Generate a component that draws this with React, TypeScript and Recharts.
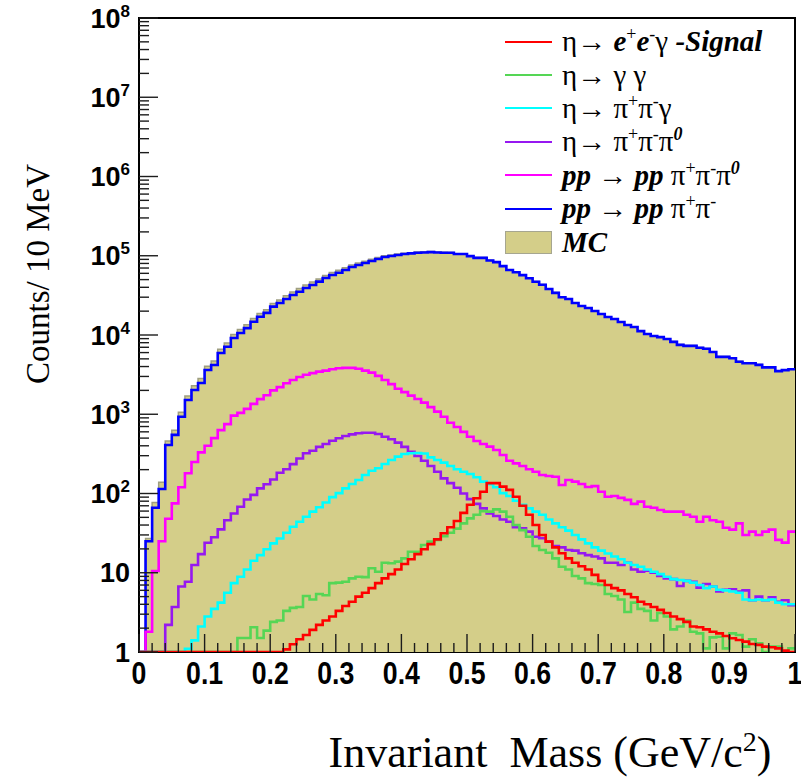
import React from 'react';
import {
  ComposedChart,
  Area,
  Line,
  XAxis,
  YAxis,
  ReferenceArea,
  Legend,
  Label,
} from 'recharts';

// histogram bin edges, 10 MeV bins (GeV/c^2)
const binEdges = [
  0, 0.01, 0.02, 0.03, 0.04, 0.05, 0.06, 0.07, 0.08, 0.09,
  0.1, 0.11, 0.12, 0.13, 0.14, 0.15, 0.16, 0.17, 0.18, 0.19,
  0.2, 0.21, 0.22, 0.23, 0.24, 0.25, 0.26, 0.27, 0.28, 0.29,
  0.3, 0.31, 0.32, 0.33, 0.34, 0.35, 0.36, 0.37, 0.38, 0.39,
  0.4, 0.41, 0.42, 0.43, 0.44, 0.45, 0.46, 0.47, 0.48, 0.49,
  0.5, 0.51, 0.52, 0.53, 0.54, 0.55, 0.56, 0.57, 0.58, 0.59,
  0.6, 0.61, 0.62, 0.63, 0.64, 0.65, 0.66, 0.67, 0.68, 0.69,
  0.7, 0.71, 0.72, 0.73, 0.74, 0.75, 0.76, 0.77, 0.78, 0.79,
  0.8, 0.81, 0.82, 0.83, 0.84, 0.85, 0.86, 0.87, 0.88, 0.89,
  0.9, 0.91, 0.92, 0.93, 0.94, 0.95, 0.96, 0.97, 0.98, 0.99,
  1,
];

const mcTotal = [
  0, 27, 77, 139, 460, 629, 1057, 1699, 2284, 2829,
  4047, 4712, 6599, 7912, 10183, 11719, 13467, 16162, 18685, 20893,
  24976, 27713, 31198, 34978, 38476, 42730, 46511, 51013, 56456, 61464,
  65509, 70610, 76653, 80887, 85321, 90046, 94838, 99979, 102471, 104855,
  107631, 109412, 111217, 112021, 112786, 111585, 110390, 110206, 106091, 105987,
  99902, 94835, 94792, 87771, 83724, 74635, 66558, 62489, 57434, 52382,
  47337, 43301, 38281, 34263, 30216, 28727, 25512, 23397, 22080, 20277,
  18554, 17034, 16033, 14726, 13517, 12707, 11309, 10397, 9792, 9487,
  8982, 8280, 7579, 7375, 7371, 6962, 6767, 6164, 5360, 5352,
  5150, 4657, 4443, 4445, 4242, 3943, 3947, 3537, 3635, 3743,
];

const ppPiPi = [
  0, 25, 66, 114, 410, 550, 930, 1510, 2020, 2480,
  3620, 4180, 5930, 7110, 9160, 10600, 12200, 14700, 17000, 19000,
  22800, 25300, 28500, 32000, 35200, 39200, 42800, 47100, 52400, 57200,
  61100, 66100, 72100, 76400, 81000, 85900, 91000, 96500, 99300, 102000,
  105000, 107000, 109000, 110000, 111000, 110000, 109000, 109000, 105000, 105000,
  99000, 94000, 94000, 87000, 83000, 74000, 66000, 62000, 57000, 52000,
  47000, 43000, 38000, 34000, 30000, 28500, 25300, 23200, 21900, 20100,
  18400, 16900, 15900, 14600, 13400, 12600, 11200, 10300, 9700, 9400,
  8900, 8200, 7500, 7300, 7300, 6900, 6700, 6100, 5300, 5300,
  5100, 4600, 4400, 4400, 4200, 3900, 3900, 3500, 3600, 3700,
];

const ppPiPiPi0 = [
  0, 1.8, 10.5, 25, 48, 75, 120, 180, 250, 330,
  400, 500, 630, 750, 960, 1040, 1170, 1350, 1550, 1740,
  2000, 2200, 2460, 2700, 2950, 3150, 3300, 3450, 3550, 3700,
  3800, 3850, 3850, 3750, 3550, 3350, 3050, 2700, 2400, 2100,
  1900, 1720, 1560, 1400, 1230, 1080, 930, 780, 690, 600,
  520, 460, 421, 390, 354, 306, 259, 240, 222, 202,
  188, 171, 166, 163, 128, 148, 141, 132, 121, 124,
  105, 91, 93, 88, 83, 74, 79, 68, 66, 62,
  59, 59, 59, 54, 51, 44, 51, 46, 44, 37,
  35, 42, 30, 33, 30, 33, 35, 26, 24, 33,
];

const etaPiPiPi0 = [
  0, 0, 0, 0, 2.2, 3.7, 6.7, 7.7, 12.5, 17.2,
  23.9, 28, 35.3, 46, 56, 68, 84, 96, 116, 131,
  150, 183, 202, 235, 277, 322, 346, 388, 421, 464,
  497, 532, 558, 575, 585, 585, 563, 521, 483, 438,
  388, 337, 297, 259, 222, 188, 155, 135, 118, 100,
  85, 74, 65, 56, 52, 47, 44, 37.5, 36.4, 33,
  28.5, 27.2, 24.7, 21.8, 20.9, 19.4, 19, 17.6, 16.7, 16,
  15.2, 13.4, 13.4, 12.5, 13.4, 11, 10.3, 10.6, 10, 9.1,
  8.5, 8.3, 6.8, 7.9, 7.7, 6.5, 7.2, 6.7, 5.8, 6.1,
  6.2, 5.8, 6.0, 4.5, 5.0, 4.5, 4.9, 4.3, 4.5, 3.9,
];

const etaPiPiGamma = [
  0, 0, 0, 0, 0, 0, 0, 1.1, 1.4, 2.1,
  2.8, 3.5, 4.2, 5.6, 7.4, 8.9, 11, 14.2, 16.7, 19.8,
  23.5, 27, 32, 38, 44, 51, 59, 67, 77, 90,
  101, 116, 132, 148, 171, 194, 208, 236, 265, 292,
  315, 322, 325, 320, 286, 265, 245, 222, 202, 188,
  176, 160, 141, 131, 120, 101, 93, 81, 72, 65,
  59, 54, 47, 42, 37.5, 34, 30, 26.4, 23.5, 20.9,
  19, 17.5, 16, 14.8, 13.4, 12.5, 11.9, 11, 10.3, 9.6,
  8.9, 8.3, 8.1, 7.9, 7.5, 7.0, 6.4, 6.7, 6.1, 6.0,
  5.8, 5.6, 4.6, 4.5, 4.6, 4.5, 4.6, 4.2, 4.0, 4.0,
];

const etaGammaGamma = [
  0, 0, 0, 0, 0, 0, 0, 0, 0, 0,
  0, 0, 0, 0, 0, 1.5, 1.5, 2.05, 1.5, 1.86,
  2.4, 2.5, 3.3, 3.6, 3.7, 5.1, 4.6, 5.4, 5.2, 7.4,
  7.5, 7.7, 8.5, 8.9, 8.8, 11.4, 10.3, 13.4, 13.2, 13.8,
  15.2, 18.4, 18.4, 22.4, 24.7, 25.9, 29, 32, 36, 42,
  48.6, 54, 60, 59, 63, 59, 51, 40, 34.5, 28.5,
  21.8, 19.4, 17.9, 15.2, 11.9, 11, 9.1, 8.5, 7.4, 7.2,
  7.0, 5.4, 5.1, 4.6, 3.2, 4.2, 3.5, 3.3, 2.5, 3.1,
  2.8, 1.93, 2.1, 2.5, 1.8, 1.72, 1.11, 1.53, 1.56, 1.11,
  1.72, 1.64, 1.17, 1.45, 1.29, 0, 1.17, 1.17, 1.0, 1.11,
];

const etaSignal = [
  0, 0, 0, 0, 0, 0, 0, 0, 0, 0,
  0, 0, 0, 0, 0, 0, 0, 0, 0, 0,
  0, 0, 1.08, 1.25, 1.45, 1.64, 1.9, 2.2, 2.5, 2.8,
  3.3, 3.8, 4.3, 5.0, 5.6, 6.4, 7.4, 8.5, 9.6, 11,
  12.9, 14.8, 17.2, 19.8, 23, 26.4, 31.5, 37.5, 45, 57,
  72, 87, 105, 135, 135, 122, 111, 91, 70, 54,
  40, 30, 24.7, 20.9, 17.6, 15.2, 13.4, 12.1, 11, 9.4,
  7.9, 7.0, 6.4, 6.0, 5.4, 4.9, 4.3, 4.0, 3.7, 3.4,
  3.1, 2.8, 2.6, 2.4, 2.1, 2.05, 1.93, 1.8, 1.72, 1.59,
  1.49, 1.42, 1.35, 1.26, 1.23, 1.17, 1.15, 1.11, 1.04, 1.0,
];

const xMajorTicks = [0, 0.1, 0.2, 0.3, 0.4, 0.5, 0.6, 0.7, 0.8, 0.9, 1];
const xTickLabels = ['0', '0.1', '0.2', '0.3', '0.4', '0.5', '0.6', '0.7', '0.8', '0.9', '1'];
const xMinorTicks = [
  0.02, 0.04, 0.06, 0.08, 0.12, 0.14, 0.16, 0.18, 0.22, 0.24, 0.26, 0.28,
  0.32, 0.34, 0.36, 0.38, 0.42, 0.44, 0.46, 0.48, 0.52, 0.54, 0.56, 0.58,
  0.62, 0.64, 0.66, 0.68, 0.72, 0.74, 0.76, 0.78, 0.82, 0.84, 0.86, 0.88,
  0.92, 0.94, 0.96, 0.98,
];

const yMajorTicks = [1, 10, 100, 1e3, 1e4, 1e5, 1e6, 1e7, 1e8];
const yTickBases = ['1', '10', '10', '10', '10', '10', '10', '10', '10'];
const yTickExponents = ['', '', '2', '3', '4', '5', '6', '7', '8'];
const yMinorSteps = [2, 3, 4, 5, 6, 7, 8, 9];

const xTicks = [...xMajorTicks, ...xMinorTicks].sort((a, b) => a - b);
const yMinorTicks = yMajorTicks.slice(0, -1).flatMap((d) => yMinorSteps.map((m) => m * d));
const yTicks = [...yMajorTicks, ...yMinorTicks].sort((a, b) => a - b);

// empty bins sit on the lower edge of the log axis, like ROOT draws them
const LOG_FLOOR = 1;
const floorLog = (v: number) => (v > LOG_FLOOR ? v : LOG_FLOOR);

const series = [
  { key: 'ppPiPi', values: ppPiPi, color: '#0000ff' },
  { key: 'ppPiPiPi0', values: ppPiPiPi0, color: '#ff00ff' },
  { key: 'etaPiPiPi0', values: etaPiPiPi0, color: '#9618f0' },
  { key: 'etaPiPiGamma', values: etaPiPiGamma, color: '#00ffff' },
  { key: 'etaGammaGamma', values: etaGammaGamma, color: '#55d655' },
  { key: 'etaSignal', values: etaSignal, color: '#ff0000' },
];

// one row per bin edge; the closing edge repeats the last bin so the step ends at x = 1
const rows = binEdges.map((x, i) => {
  const k = Math.min(i, mcTotal.length - 1);
  const row: Record<string, number> = { x, mc: floorLog(mcTotal[k]) };
  series.forEach((s) => {
    row[s.key] = floorLog(s.values[k]);
  });
  return row;
});

const SANS = "'Liberation Sans', Arial, Helvetica, sans-serif";
const SERIF = "'Liberation Serif', 'Times New Roman', serif";
const MC_FILL = '#d4ce89';

const XTick = (props: any) => {
  const { x, y, payload } = props;
  const idx = xMajorTicks.findIndex((t) => Math.abs(t - payload.value) < 1e-9);
  const major = idx >= 0;
  return (
    <g>
      <line x1={x} x2={x} y1={y} y2={y - (major ? 18 : 9)} stroke="#1c1c1c" strokeWidth={1.4} />
      {major && (
        <text
          x={0}
          y={0}
          transform={`translate(${x},${y + 32}) scale(0.86,1)`}
          textAnchor="middle"
          fontFamily={SANS}
          fontWeight="bold"
          fontSize={31}
          fill="#000"
        >
          {xTickLabels[idx]}
        </text>
      )}
    </g>
  );
};

const YTick = (props: any) => {
  const { x, y, payload } = props;
  const idx = yMajorTicks.indexOf(payload.value);
  const major = idx >= 0;
  return (
    <g>
      <line x1={x} x2={x + (major ? 19 : 10)} y1={y} y2={y} stroke="#1c1c1c" strokeWidth={1.4} />
      {major && (
        <text
          x={x - 9}
          y={y}
          dy="0.36em"
          textAnchor="end"
          fontFamily={SANS}
          fontWeight="bold"
          fontSize={27}
          fill="#000"
        >
          {yTickBases[idx]}
          {yTickExponents[idx] && (
            <tspan dy={-11} fontSize={17}>
              {yTickExponents[idx]}
            </tspan>
          )}
        </text>
      )}
    </g>
  );
};

const sup: React.CSSProperties = { fontSize: '62%', verticalAlign: 'super', lineHeight: 0 };
const bi: React.CSSProperties = { fontWeight: 'bold', fontStyle: 'italic' };

const legendRows = [
  {
    color: '#ff0000',
    text: (
      <>
        η→ <span style={bi}>e</span><span style={sup}>+</span><span style={bi}>e</span>
        <span style={sup}>-</span>γ <span style={bi}>-Signal</span>
      </>
    ),
  },
  { color: '#55d655', text: <>η→ γ γ</> },
  {
    color: '#00ffff',
    text: (
      <>
        η→ π<span style={sup}>+</span>π<span style={sup}>-</span>γ
      </>
    ),
  },
  {
    color: '#9618f0',
    text: (
      <>
        η→ π<span style={sup}>+</span>π<span style={sup}>-</span>π<span style={{ ...sup, ...bi }}>0</span>
      </>
    ),
  },
  {
    color: '#ff00ff',
    text: (
      <>
        <span style={bi}>pp</span> → <span style={bi}>pp</span> π<span style={sup}>+</span>π
        <span style={sup}>-</span>π<span style={{ ...sup, ...bi }}>0</span>
      </>
    ),
  },
  {
    color: '#0000ff',
    text: (
      <>
        <span style={bi}>pp</span> → <span style={bi}>pp</span> π<span style={sup}>+</span>π
        <span style={sup}>-</span>
      </>
    ),
  },
];

const LegendBox = () => (
  <div style={{ fontFamily: SERIF, fontSize: 29, color: '#000' }}>
    {legendRows.map((r, i) => (
      <div key={i} style={{ height: 33.4, display: 'flex', alignItems: 'center', whiteSpace: 'nowrap' }}>
        <div style={{ width: 47, height: 0, borderTop: `2px solid ${r.color}`, marginRight: 10 }} />
        <div style={{ lineHeight: '33px' }}>{r.text}</div>
      </div>
    ))}
    <div style={{ height: 33.4, display: 'flex', alignItems: 'center' }}>
      <div
        style={{
          width: 45,
          height: 21,
          background: MC_FILL,
          border: '1.5px solid #a6a690',
          marginRight: 10,
        }}
      />
      <div style={{ ...bi, lineHeight: '33px' }}>MC</div>
    </div>
  </div>
);

export default function App() {
  return (
    <div style={{ position: 'absolute', left: 0, top: 0, width: 801, height: 779, background: '#fff' }}>
      <ComposedChart
        width={801}
        height={779}
        data={rows}
        margin={{ top: 18, right: 6, bottom: 0, left: 0 }}
      >
        <ReferenceArea x1={0} x2={1} y1={1} y2={1e8} fill="none" stroke="#000" strokeWidth={2} />
        <Area
          dataKey="mc"
          type="stepAfter"
          baseValue={1}
          fill={MC_FILL}
          fillOpacity={1}
          stroke="#9e9e82"
          strokeWidth={1.5}
          dot={false}
          activeDot={false}
          isAnimationActive={false}
        />
        {series.map((s) => (
          <Line
            key={s.key}
            dataKey={s.key}
            type="stepAfter"
            stroke={s.color}
            strokeWidth={2.6}
            dot={false}
            activeDot={false}
            isAnimationActive={false}
          />
        ))}
        <XAxis
          dataKey="x"
          type="number"
          domain={[0, 1]}
          allowDataOverflow
          ticks={xTicks}
          interval={0}
          tick={<XTick />}
          tickLine={false}
          axisLine={false}
          tickSize={0}
          tickMargin={0}
          height={127}
        >
          <Label
            content={() => (
              <text
                x={550}
                y={767}
                textAnchor="middle"
                fontFamily={SERIF}
                fontSize={44}
                fill="#000"
                style={{ whiteSpace: 'pre' }}
              >
                {'Invariant  Mass (GeV/c'}
                <tspan dy={-16} fontSize={28}>2</tspan>
                <tspan dy={16}>)</tspan>
              </text>
            )}
          />
        </XAxis>
        <YAxis
          type="number"
          scale="log"
          domain={[1, 1e8]}
          allowDataOverflow
          ticks={yTicks}
          interval={0}
          tick={<YTick />}
          tickLine={false}
          axisLine={false}
          tickSize={0}
          tickMargin={0}
          width={139}
        >
          <Label
            content={() => (
              <text
                x={0}
                y={0}
                transform="translate(49,274) rotate(-90)"
                textAnchor="middle"
                fontFamily={SERIF}
                fontSize={33}
                fill="#000"
              >
                Counts/ 10 MeV
              </text>
            )}
          />
        </YAxis>
        <Legend
          layout="vertical"
          align="center"
          verticalAlign="middle"
          wrapperStyle={{ left: 505, top: 25, width: 290 }}
          content={() => <LegendBox />}
        />
      </ComposedChart>
    </div>
  );
}
